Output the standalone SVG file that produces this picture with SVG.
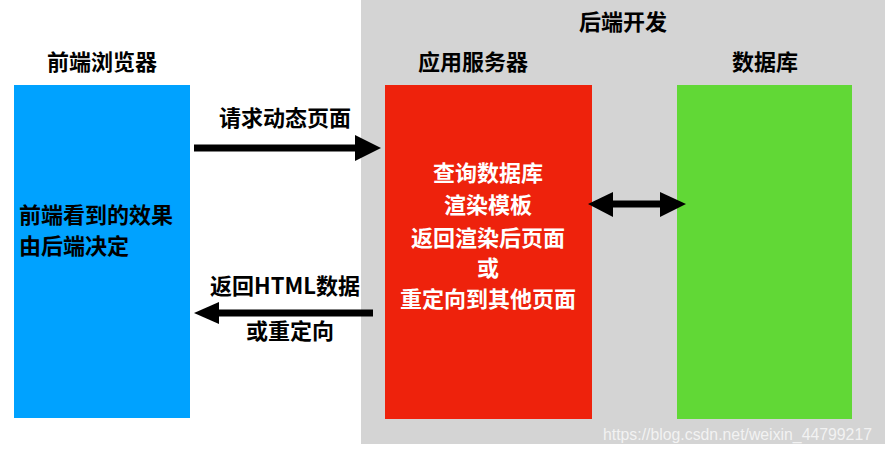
<svg xmlns="http://www.w3.org/2000/svg" width="885" height="453" viewBox="0 0 885 453">
<style>
  text { font-family: "Noto Sans CJK SC", "Noto Sans", sans-serif; font-weight: bold; font-size: 22px; fill: #000; }
  .c { text-anchor: middle; }
  .w { fill: #fff; }
  .wm { font-family: "Liberation Sans", Arial, sans-serif; font-weight: normal; font-size: 16px; fill: #f2f2f2; }
  .ln { stroke: #000; stroke-width: 7; fill: none; }
</style>
<rect id="backend-bg" x="361" y="0" width="524" height="444" fill="#d4d4d4"/>
<text class="c" x="623" y="30">后端开发</text>
<g id="browser">
  <text class="c" x="102" y="70">前端浏览器</text>
  <rect x="14" y="85" width="176" height="333" fill="#00a2ff"/>
  <text x="19" y="223">前端看到的效果</text>
  <text x="19" y="254">由后端决定</text>
</g>
<g id="app-server">
  <text class="c" x="473" y="70">应用服务器</text>
  <rect x="385" y="85" width="207" height="334" fill="#ee220c"/>
  <text class="c w" x="488" y="181">查询数据库</text>
  <text class="c w" x="488" y="213">渲染模板</text>
  <text class="c w" x="488" y="246">返回渲染后页面</text>
  <text class="c w" x="488" y="276">或</text>
  <text class="c w" x="488" y="307">重定向到其他页面</text>
</g>
<g id="database">
  <text class="c" x="765" y="70">数据库</text>
  <rect x="677" y="85" width="175" height="334" fill="#61d836"/>
</g>
<g id="connectors">
  <line class="ln" x1="194" y1="148" x2="360" y2="148"/>
  <path d="M355,135 L381,148 L355,161 z" fill="#000"/>
  <text class="c" x="285" y="126">请求动态页面</text>
  <line class="ln" x1="373" y1="313" x2="215" y2="313"/>
  <path d="M219,302 L194,313 L219,324 z" fill="#000"/>
  <text class="c" x="285" y="294">返回HTML数据</text>
  <text class="c" x="290" y="339">或重定向</text>
  <line class="ln" x1="610" y1="204" x2="663" y2="204"/>
  <path d="M613,192 L588,204 L613,217 z" fill="#000"/>
  <path d="M660,192 L686,204 L660,217 z" fill="#000"/>
</g>
<text class="wm" x="603" y="440" textLength="269" lengthAdjust="spacingAndGlyphs">https://blog.csdn.net/weixin_44799217</text>
</svg>
